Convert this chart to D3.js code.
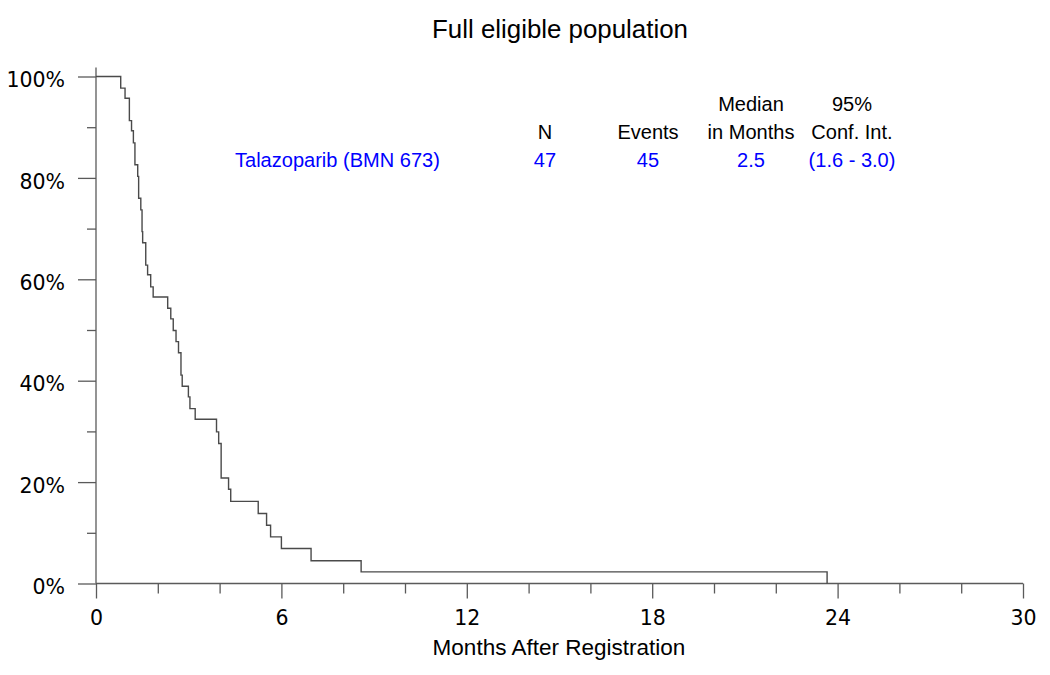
<!DOCTYPE html>
<html>
<head>
<meta charset="utf-8">
<script src="https://cdn.jsdelivr.net/npm/d3@7/dist/d3.min.js"></script>
<style>
  html, body { margin: 0; padding: 0; background: #fff; }
  svg { display: block; }
</style>
</head>
<body>
<svg id="chart" width="1050" height="675"></svg>
<script>
// ---- Data ----
const eventTimes = [0, 0.80, 0.94, 1.08, 1.15, 1.21, 1.26, 1.35, 1.38, 1.45, 1.49, 1.51, 1.61, 1.67, 1.77, 1.85,
  2.32, 2.42, 2.50, 2.59, 2.67, 2.75, 2.79, 2.99, 3.04, 3.21, 3.90, 3.97, 4.05, 4.29, 4.36,
  5.25, 5.52, 5.65, 6.00, 6.96, 8.58, 23.66];
const survivalPct = [100, 97.7, 95.7, 91.3, 89.3, 86.9, 82.6, 80.3, 76.0, 73.7, 69.4, 67.2, 62.8, 60.9, 58.5, 56.5,
  54.3, 52.2, 49.9, 47.7, 45.5, 41.1, 38.9, 36.8, 34.5, 32.4, 29.9, 27.6, 20.8, 18.6, 16.2,
  13.8, 11.5, 9.2, 6.9, 4.5, 2.3, 0];
const xMajorTicks = [0, 6, 12, 18, 24, 30];
const xMinorTicks = [2, 4, 8, 10, 14, 16, 20, 22, 26, 28];
const yMajorTicks = [0, 20, 40, 60, 80, 100];
const yMinorTicks = [10, 30, 50, 70, 90];
const tableHeader1 = ["", "", "Median", "95%"];
const tableHeader2 = ["N", "Events", "in Months", "Conf. Int."];
const groupName = "Talazoparib (BMN 673)";
const groupValues = ["47", "45", "2.5", "(1.6 - 3.0)"];
const titleText = "Full eligible population";
const xAxisLabel = "Months After Registration";

// ---- Layout ----
const svg = d3.select("#chart");
const x = d3.scaleLinear().domain([0, 30]).range([96, 1023]);
const y = d3.scaleLinear().domain([0, 100]).range([583.5, 76.5]);
const axisColor = "#5a5a5a";
const sans = "'Liberation Sans', Arial, sans-serif";
const tickFont = "'DejaVu Sans', sans-serif";

function fitWidth(sel, target) {
  const w = sel.node().getComputedTextLength();
  const fs = parseFloat(sel.attr("font-size"));
  sel.attr("font-size", (fs * target / w).toFixed(2));
}

// Title
const title = svg.append("text").attr("x", 560).attr("y", 38).attr("text-anchor", "middle")
  .attr("font-family", sans).attr("font-size", 24).attr("fill", "#000").text(titleText);
fitWidth(title, 256);

// X axis
const gx = svg.append("g").attr("transform", `translate(0,${y(0)})`);
gx.call(d3.axisBottom(x).tickValues(xMajorTicks).tickSize(15).tickPadding(12).tickFormat(d3.format("d")));
gx.call(g => g.select(".domain").remove());
gx.selectAll(".tick line").attr("stroke", axisColor).attr("stroke-width", 1.3);
gx.selectAll(".tick text").attr("fill", "#000").attr("font-family", tickFont).attr("font-size", 20.5);
const gxm = svg.append("g").attr("transform", `translate(0,${y(0)})`);
gxm.call(d3.axisBottom(x).tickValues(xMinorTicks).tickSize(10).tickFormat(""));
gxm.call(g => g.select(".domain").remove());
gxm.selectAll(".tick line").attr("stroke", axisColor).attr("stroke-width", 1.3);
svg.append("line").attr("x1", x(0)).attr("x2", x(30)).attr("y1", y(0)).attr("y2", y(0))
  .attr("stroke", axisColor).attr("stroke-width", 1.3);

// Y axis
const gy = svg.append("g").attr("transform", `translate(${x(0)},0)`);
gy.call(d3.axisLeft(y).tickValues(yMajorTicks).tickSize(18).tickPadding(13).tickFormat(d => d + "%"));
gy.call(g => g.select(".domain").remove());
gy.selectAll(".tick line").attr("stroke", axisColor).attr("stroke-width", 1.3);
gy.selectAll(".tick text").attr("fill", "#000").attr("font-family", tickFont).attr("font-size", 20.5)
  .attr("dy", "0.5em");
const gym = svg.append("g").attr("transform", `translate(${x(0)},0)`);
gym.call(d3.axisLeft(y).tickValues(yMinorTicks).tickSize(9).tickFormat(""));
gym.call(g => g.select(".domain").remove());
gym.selectAll(".tick line").attr("stroke", axisColor).attr("stroke-width", 1.3);
svg.append("line").attr("x1", x(0)).attr("x2", x(0)).attr("y1", y(100) - 9).attr("y2", y(0))
  .attr("stroke", axisColor).attr("stroke-width", 1.3);

// X axis label
const xl = svg.append("text").attr("x", 559).attr("y", 655).attr("text-anchor", "middle")
  .attr("font-family", sans).attr("font-size", 20).attr("fill", "#000").text(xAxisLabel);
fitWidth(xl, 253);

// KM step curve
const pts = eventTimes.map((t, i) => [t, survivalPct[i]]);
const line = d3.line().x(d => x(d[0])).y(d => y(d[1])).curve(d3.curveStepAfter);
svg.append("path").datum(pts).attr("d", line).attr("fill", "none")
  .attr("stroke", "#4a4a4a").attr("stroke-width", 1.4);

// Table
const colX = [545, 648, 751, 852];
const tsz = 19.5;
const gname = svg.append("text").attr("x", 235).attr("y", 167).attr("text-anchor", "start")
  .attr("font-family", sans).attr("font-size", tsz).attr("fill", "#0000ff").text(groupName);
fitWidth(gname, 205);
const tfs = gname.attr("font-size");
colX.forEach((cx, i) => {
  if (tableHeader1[i]) svg.append("text").attr("x", cx).attr("y", 111).attr("text-anchor", "middle")
    .attr("font-family", sans).attr("font-size", tfs).attr("fill", "#000").text(tableHeader1[i]);
  svg.append("text").attr("x", cx).attr("y", 139).attr("text-anchor", "middle")
    .attr("font-family", sans).attr("font-size", tfs).attr("fill", "#000").text(tableHeader2[i]);
  svg.append("text").attr("x", cx).attr("y", 167).attr("text-anchor", "middle")
    .attr("font-family", sans).attr("font-size", tfs).attr("fill", "#0000ff").text(groupValues[i]);
});
</script>
</body>
</html>
